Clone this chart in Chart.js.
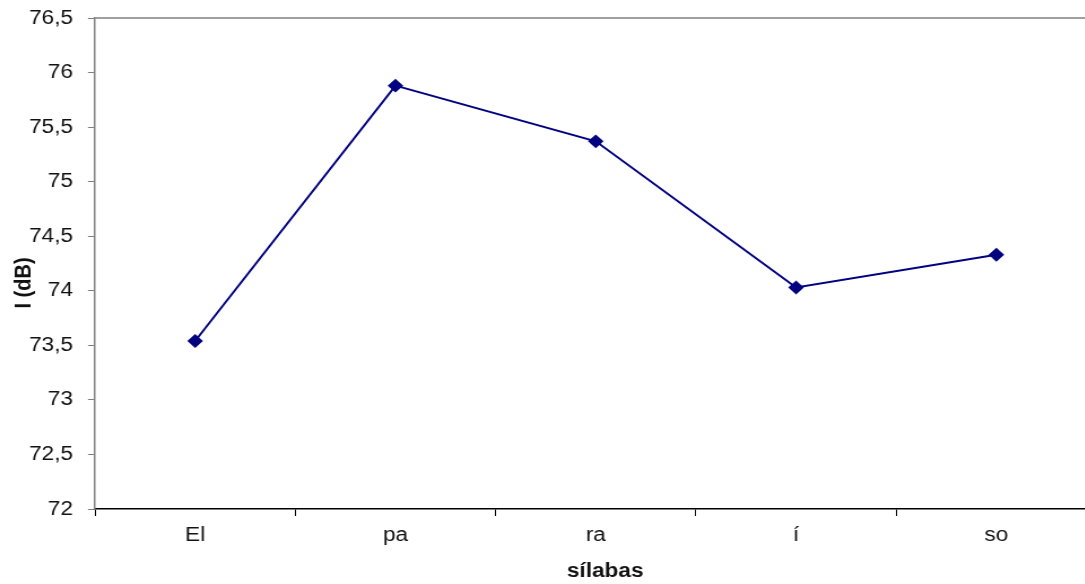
<!DOCTYPE html>
<html>
<head>
<meta charset="utf-8">
<script src="https://cdn.jsdelivr.net/npm/chart.js@4"></script>
<style>
html,body{margin:0;padding:0;background:#fff;overflow:hidden;}
canvas{display:block;}
</style>
</head>
<body>
<canvas id="c" width="978" height="584" style="width:1105.14px;height:584px;"></canvas>
<script>
const categories = ["El", "pa", "ra", "í", "so"];
const intensity = [73.54, 75.88, 75.37, 74.03, 74.33];
const yMin = 72, yMax = 76.5, yStep = 0.5;
const yTitle = "I (dB)";
const xTitle = "sílabas";

const topBorder = {
  id: 'topBorder',
  afterDraw(chart) {
    const a = chart.chartArea, ctx = chart.ctx;
    ctx.save();
    ctx.strokeStyle = '#808080';
    ctx.lineWidth = 1.5;
    ctx.beginPath();
    ctx.moveTo(a.left, a.top);
    ctx.lineTo(a.right, a.top);
    ctx.stroke();
    ctx.restore();
  }
};

const FONT = 'Liberation Sans';

new Chart(document.getElementById('c'), {
  type: 'line',
  data: {
    labels: categories,
    datasets: [{
      data: intensity,
      borderColor: '#000080',
      backgroundColor: '#000080',
      borderWidth: 2,
      pointStyle: 'rectRot',
      pointRadius: 5.5,
      pointHoverRadius: 5.5,
      tension: 0,
      fill: false
    }]
  },
  options: {
    responsive: false,
    animation: false,
    layout: { padding: { top: 18, right: 3.5, left: 0, bottom: 0 } },
    plugins: { legend: { display: false }, tooltip: { enabled: false } },
    scales: {
      x: {
        type: 'category',
        offset: true,
        grid: { offset: true, drawOnChartArea: false, tickLength: 7, color: '#000', lineWidth: 1 },
        border: { color: '#000', width: 1.5 },
        ticks: { color: '#111', font: { family: FONT, size: 20 }, padding: 7, maxRotation: 0 },
        title: { display: true, text: '   ' + xTitle, color: '#111', font: { family: FONT, size: 20, weight: 'bold' }, padding: { top: 0, bottom: 1 } },
        afterFit(s) { s.height = 75; s.paddingLeft = 0; s.paddingRight = 0; }
      },
      y: {
        min: yMin, max: yMax,
        grid: { drawOnChartArea: false, tickLength: 6.2, color: '#808080', lineWidth: 1 },
        border: { color: '#808080', width: 1.5 },
        ticks: {
          stepSize: yStep, color: '#111', padding: 13.3,
          font: { family: FONT, size: 20 },
          callback: v => String(v).replace('.', ',')
        },
        title: { display: true, text: yTitle + '       ', color: '#111', font: { family: FONT, size: 20, weight: 'bold' }, padding: { top: 9.2, bottom: 0 } },
        afterFit(s) { s.width = 84.07; s.paddingTop = 0; s.paddingBottom = 0; }
      }
    }
  },
  plugins: [topBorder]
});
</script>
</body>
</html>
